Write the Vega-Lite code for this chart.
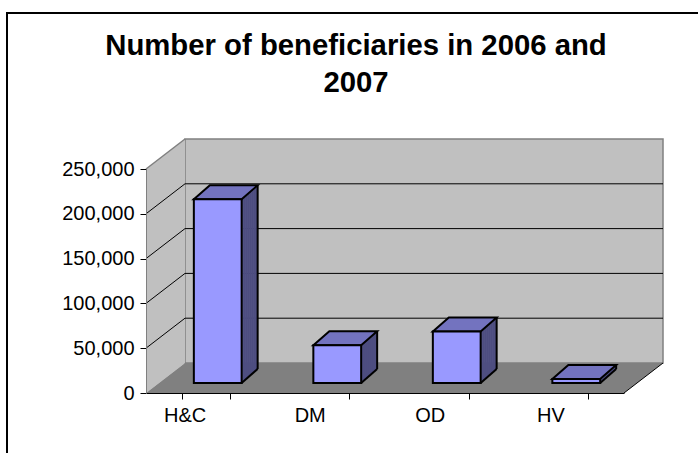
{
  "$schema": "https://vega.github.io/schema/vega-lite/v6.json",
  "width": 478,
  "height": 224,
  "autosize": {"type": "none"},
  "padding": {"left": 146, "top": 169, "right": 74, "bottom": 60},
  "background": "white",
  "config": {"view": {"stroke": null}, "font": "Liberation Sans"},
  "title": {
    "text": ["Number of beneficiaries in 2006 and", "2007"],
    "font": "Liberation Sans",
    "fontSize": 29.3,
    "fontWeight": "bold",
    "color": "black",
    "anchor": "middle",
    "frame": "group",
    "dx": -29,
    "lineHeight": 37,
    "offset": -86
  },
  "datasets": {
    "bars": [
      {"category": "H&C", "beneficiaries": 205000},
      {"category": "DM", "beneficiaries": 42000},
      {"category": "OD", "beneficiaries": 57500},
      {"category": "HV", "beneficiaries": 4500}
    ],
    "grid": [
      {"tick": 50000},
      {"tick": 100000},
      {"tick": 150000},
      {"tick": 200000}
    ]
  },
  "layer": [
    {
      "data": {"values": [{}]},
      "mark": {"type": "rect", "filled": false, "stroke": "black", "strokeWidth": 2, "xOffset": -139, "x2Offset": 80, "yOffset": -156, "y2Offset": 70},
      "encoding": {"x": {"value": 0}, "x2": {"value": "width"}, "y": {"datum": 250000}, "y2": {"datum": 0}}
    },
    {
      "data": {"values": [{}]},
      "mark": {"type": "rect", "fill": "#C0C0C0", "stroke": "#808080", "strokeWidth": 1.5, "xOffset": 39, "x2Offset": 39, "yOffset": -30, "y2Offset": -30},
      "encoding": {"x": {"value": 0}, "x2": {"value": "width"}, "y": {"datum": 250000}, "y2": {"datum": 0}}
    },
    {
      "data": {"values": [{}]},
      "mark": {"type": "point", "shape": "M0,0L0,-224L39,-254L39,-30Z", "size": 4, "filled": true, "fill": "#C0C0C0", "opacity": 1, "strokeWidth": 0},
      "encoding": {"x": {"value": 0}, "y": {"datum": 0}}
    },
    {
      "data": {"values": [{}]},
      "mark": {"type": "point", "shape": "M0,0L478,0L517,-30L39,-30Z", "size": 4, "filled": true, "fill": "#808080", "opacity": 1, "strokeWidth": 0},
      "encoding": {"x": {"value": 0}, "y": {"datum": 0}}
    },
    {
      "data": {"values": [{}]},
      "mark": {"type": "rule", "stroke": "#808080", "strokeWidth": 1.5, "x2Offset": 39, "y2Offset": -30},
      "encoding": {"x": {"value": 0}, "x2": {"value": 0}, "y": {"datum": 250000}, "y2": {"datum": 250000}}
    },
    {
      "data": {"values": [{}]},
      "mark": {"type": "rule", "stroke": "black", "strokeWidth": 1, "x2Offset": 39, "y2Offset": -30},
      "encoding": {"x": {"value": "width"}, "x2": {"value": "width"}, "y": {"datum": 0}, "y2": {"datum": 0}}
    },
    {
      "data": {"name": "grid"},
      "mark": {"type": "rule", "stroke": "black", "strokeWidth": 1, "xOffset": 39, "x2Offset": 39, "yOffset": -30},
      "encoding": {"x": {"value": 0}, "x2": {"value": "width"}, "y": {"field": "tick", "type": "quantitative"}}
    },
    {
      "data": {"name": "grid"},
      "mark": {"type": "rule", "stroke": "black", "strokeWidth": 1, "x2Offset": 39, "y2Offset": -30},
      "encoding": {"x": {"value": 0}, "x2": {"value": 0}, "y": {"field": "tick", "type": "quantitative"}, "y2": {"field": "tick"}}
    },
    {
      "data": {"name": "bars"},
      "mark": {"type": "bar", "fill": "#4D4D80", "width": 2.5, "xOffset": 36.9, "yOffset": -10.9, "y2Offset": -10.9},
      "encoding": {"x": {"field": "category", "type": "nominal", "sort": ["H&C", "DM", "OD", "HV"]}, "y": {"field": "beneficiaries", "type": "quantitative"}, "y2": {"datum": 0}}
    },
    {
      "data": {"name": "bars"},
      "mark": {"type": "bar", "fill": "#4D4D80", "width": 2.5, "xOffset": 38.9, "yOffset": -12.6, "y2Offset": -12.6},
      "encoding": {"x": {"field": "category", "type": "nominal", "sort": ["H&C", "DM", "OD", "HV"]}, "y": {"field": "beneficiaries", "type": "quantitative"}, "y2": {"datum": 0}}
    },
    {
      "data": {"name": "bars"},
      "mark": {"type": "bar", "fill": "#4D4D80", "width": 2.5, "xOffset": 40.9, "yOffset": -14.4, "y2Offset": -14.4},
      "encoding": {"x": {"field": "category", "type": "nominal", "sort": ["H&C", "DM", "OD", "HV"]}, "y": {"field": "beneficiaries", "type": "quantitative"}, "y2": {"datum": 0}}
    },
    {
      "data": {"name": "bars"},
      "mark": {"type": "bar", "fill": "#4D4D80", "width": 2.5, "xOffset": 42.9, "yOffset": -16.1, "y2Offset": -16.1},
      "encoding": {"x": {"field": "category", "type": "nominal", "sort": ["H&C", "DM", "OD", "HV"]}, "y": {"field": "beneficiaries", "type": "quantitative"}, "y2": {"datum": 0}}
    },
    {
      "data": {"name": "bars"},
      "mark": {"type": "bar", "fill": "#4D4D80", "width": 2.5, "xOffset": 44.9, "yOffset": -17.9, "y2Offset": -17.9},
      "encoding": {"x": {"field": "category", "type": "nominal", "sort": ["H&C", "DM", "OD", "HV"]}, "y": {"field": "beneficiaries", "type": "quantitative"}, "y2": {"datum": 0}}
    },
    {
      "data": {"name": "bars"},
      "mark": {"type": "bar", "fill": "#4D4D80", "width": 2.5, "xOffset": 46.9, "yOffset": -19.6, "y2Offset": -19.6},
      "encoding": {"x": {"field": "category", "type": "nominal", "sort": ["H&C", "DM", "OD", "HV"]}, "y": {"field": "beneficiaries", "type": "quantitative"}, "y2": {"datum": 0}}
    },
    {
      "data": {"name": "bars"},
      "mark": {"type": "bar", "fill": "#4D4D80", "width": 2.5, "xOffset": 48.9, "yOffset": -21.4, "y2Offset": -21.4},
      "encoding": {"x": {"field": "category", "type": "nominal", "sort": ["H&C", "DM", "OD", "HV"]}, "y": {"field": "beneficiaries", "type": "quantitative"}, "y2": {"datum": 0}}
    },
    {
      "data": {"name": "bars"},
      "mark": {"type": "bar", "fill": "#4D4D80", "width": 2.5, "xOffset": 50.7, "yOffset": -23.1, "y2Offset": -23.1},
      "encoding": {"x": {"field": "category", "type": "nominal", "sort": ["H&C", "DM", "OD", "HV"]}, "y": {"field": "beneficiaries", "type": "quantitative"}, "y2": {"datum": 0}}
    },
    {
      "data": {"name": "bars"},
      "mark": {"type": "rule", "stroke": "black", "strokeWidth": 2, "xOffset": 51.9, "yOffset": -24, "y2Offset": -24},
      "encoding": {"x": {"field": "category", "type": "nominal", "sort": ["H&C", "DM", "OD", "HV"]}, "y": {"field": "beneficiaries", "type": "quantitative"}, "y2": {"datum": 0}}
    },
    {
      "data": {"name": "bars"},
      "mark": {"type": "point", "shape": "M0,0L16,-14", "size": 4, "filled": false, "stroke": "black", "strokeWidth": 2, "opacity": 1, "xOffset": 35.9, "yOffset": -10},
      "encoding": {"x": {"field": "category", "type": "nominal", "sort": ["H&C", "DM", "OD", "HV"]}, "y": {"datum": 0}}
    },
    {
      "data": {"name": "bars"},
      "mark": {"type": "point", "shape": "M-23.9,0L23.9,0L39.9,-14L-7.9,-14Z", "size": 4, "filled": true, "fill": "#7373BF", "stroke": "black", "strokeWidth": 2, "strokeJoin": "miter", "opacity": 1, "xOffset": 12, "yOffset": -10},
      "encoding": {"x": {"field": "category", "type": "nominal", "sort": ["H&C", "DM", "OD", "HV"]}, "y": {"field": "beneficiaries", "type": "quantitative"}}
    },
    {
      "data": {"name": "bars"},
      "mark": {"type": "bar", "fill": "#9999FF", "stroke": "black", "strokeWidth": 2, "xOffset": 12, "yOffset": -10, "y2Offset": -10},
      "encoding": {
        "x": {
          "field": "category",
          "type": "nominal",
          "sort": ["H&C", "DM", "OD", "HV"],
          "scale": {"paddingInner": 0.6, "paddingOuter": 0.3},
          "axis": {
            "title": null,
            "labelAngle": 0,
            "tickBand": "extent",
            "tickSize": 6,
            "tickColor": "black",
            "domainColor": "black",
            "labelFont": "Liberation Sans",
            "labelFontSize": 20,
            "labelColor": "black",
            "labelPadding": 16,
            "zindex": 1
          }
        },
        "y": {
          "field": "beneficiaries",
          "type": "quantitative",
          "scale": {"domain": [0, 250000], "nice": false},
          "axis": {
            "title": null,
            "values": [0, 50000, 100000, 150000, 200000, 250000],
            "labelExpr": "format(datum.value, ',')",
            "grid": false,
            "tickSize": 6,
            "tickColor": "black",
            "domainColor": "#808080",
            "labelFont": "Liberation Sans",
            "labelFontSize": 20,
            "labelColor": "black",
            "labelPadding": 6,
            "zindex": 1
          }
        },
        "y2": {"datum": 0}
      }
    }
  ]
}
